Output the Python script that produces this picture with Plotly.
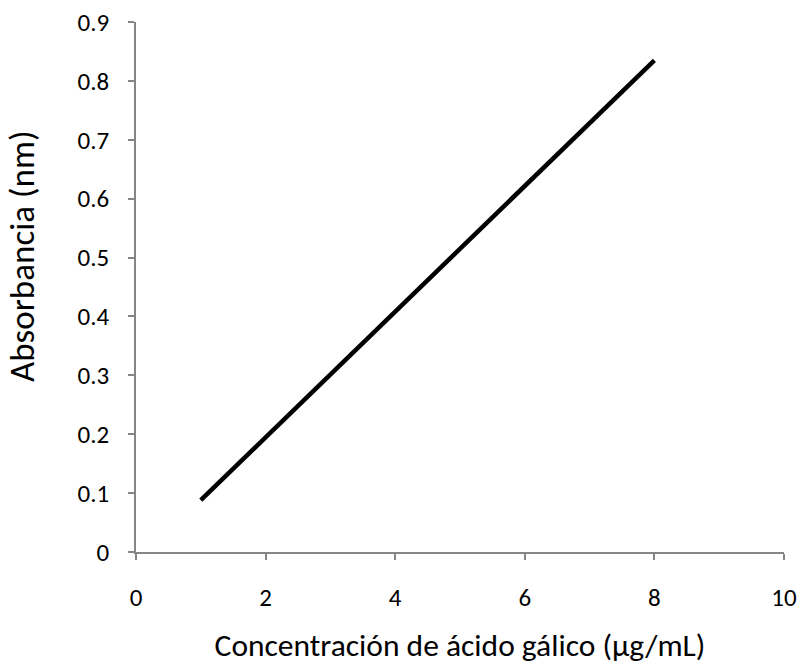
import plotly.graph_objects as go

concentracion = [1, 2, 3, 4, 5, 6, 7, 8]
absorbancia = [0.088, 0.195, 0.301, 0.408, 0.515, 0.621, 0.728, 0.835]

x_ticks = [0, 2, 4, 6, 8, 10]
y_ticks = [0, 0.1, 0.2, 0.3, 0.4, 0.5, 0.6, 0.7, 0.8, 0.9]
y_ticklabels = ["0", "0.1", "0.2", "0.3", "0.4", "0.5", "0.6", "0.7", "0.8", "0.9"]

x_title = "Concentración de ácido gálico (µg/mL)"
y_title = "Absorbancia (nm)"

fig = go.Figure()
fig.add_trace(go.Scatter(
    x=concentracion, y=absorbancia, mode="lines",
    line=dict(color="black", width=4.5),
    showlegend=False, hoverinfo="x+y",
))

font_family = "Carlito, Calibri, Lato, sans-serif"
axis_common = dict(
    showline=True, linecolor="#868686", linewidth=1.5,
    ticks="outside", ticklen=6, tickcolor="#868686", tickwidth=1.5,
    showgrid=False, zeroline=False,
    tickfont=dict(family=font_family, size=25, color="black"),
)

fig.update_layout(
    width=801, height=664,
    paper_bgcolor="white", plot_bgcolor="white",
    margin=dict(l=136, r=17, t=22, b=112, autoexpand=False),
    font=dict(family=font_family, color="black"),
    xaxis=dict(
        range=[0, 10], tickvals=x_ticks, ticktext=[str(v) for v in x_ticks],
        title=dict(text=x_title,
                   font=dict(family=font_family, size=31.5, color="black"), standoff=24),
        ticklabelstandoff=16,
        **axis_common,
    ),
    yaxis=dict(
        range=[0, 0.9], tickvals=y_ticks, ticktext=y_ticklabels,
        ticklabelstandoff=14,
        **axis_common,
    ),
    annotations=[dict(
        text=y_title, textangle=-90, showarrow=False,
        xref="paper", yref="paper", x=-0.176, y=0.5585,
        xanchor="center", yanchor="middle",
        font=dict(family=font_family, size=35, color="black"),
    )],
)

fig.write_html("out.html", post_script="document.body.style.margin='0';",
               config={"displayModeBar": False})
